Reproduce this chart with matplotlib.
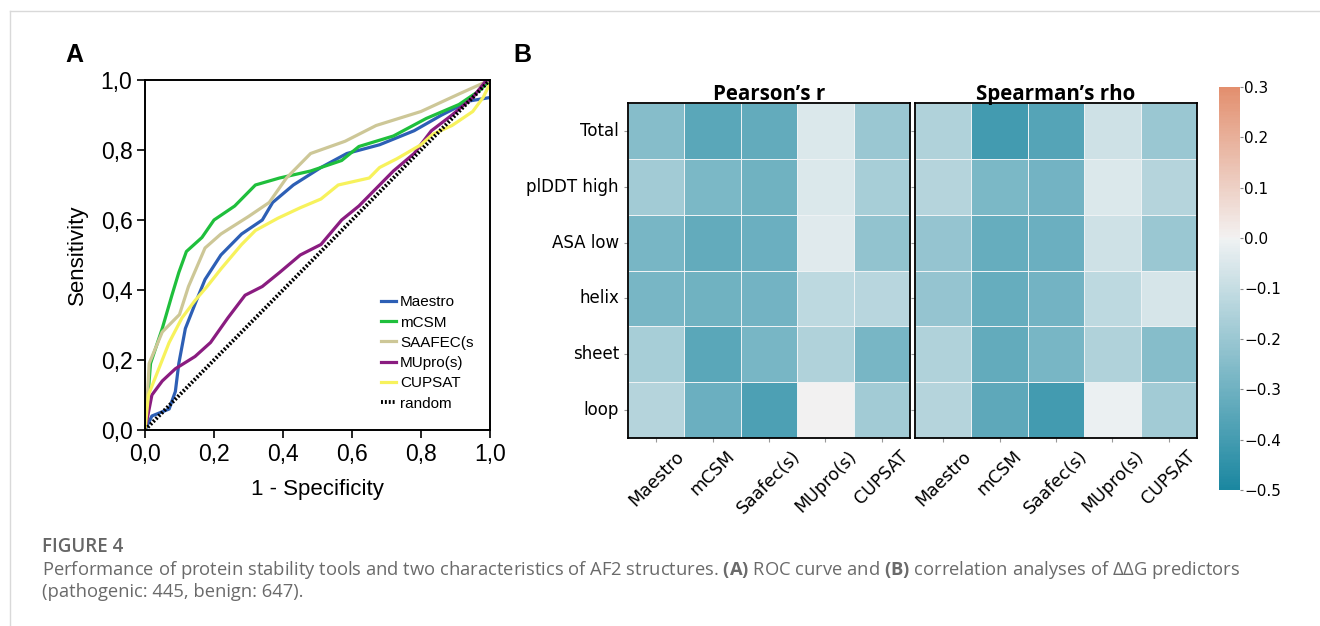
import matplotlib
matplotlib.use("Agg")
import matplotlib.pyplot as plt
from matplotlib.lines import Line2D
import seaborn as sns
import numpy as np

plt.rcParams["font.family"] = ["DejaVu Sans"]

# ROC curves (1 - specificity, sensitivity)
maestro_x = [0, 0.02, 0.07, 0.088, 0.098, 0.117, 0.145, 0.174, 0.22, 0.28, 0.34, 0.37, 0.43, 0.51, 0.585, 0.68, 0.78, 0.86, 0.94, 1.0]
maestro_y = [0, 0.04, 0.06, 0.11, 0.19, 0.29, 0.36, 0.43, 0.50, 0.56, 0.60, 0.65, 0.70, 0.75, 0.79, 0.815, 0.855, 0.90, 0.94, 0.95]
mcsm_x = [0, 0.004, 0.016, 0.05, 0.078, 0.098, 0.12, 0.165, 0.20, 0.26, 0.32, 0.39, 0.48, 0.57, 0.62, 0.72, 0.815, 0.91, 0.97, 1.0]
mcsm_y = [0, 0.04, 0.19, 0.29, 0.385, 0.45, 0.51, 0.55, 0.60, 0.64, 0.70, 0.72, 0.74, 0.77, 0.81, 0.84, 0.89, 0.93, 0.97, 1.0]
saafec_x = [0, 0.003, 0.012, 0.05, 0.10, 0.126, 0.174, 0.22, 0.30, 0.36, 0.41, 0.48, 0.58, 0.67, 0.80, 0.91, 1.0]
saafec_y = [0, 0.02, 0.19, 0.28, 0.33, 0.41, 0.52, 0.56, 0.61, 0.65, 0.72, 0.79, 0.825, 0.87, 0.91, 0.96, 1.0]
mupro_x = [0, 0.02, 0.05, 0.088, 0.145, 0.19, 0.24, 0.29, 0.34, 0.39, 0.45, 0.51, 0.57, 0.62, 0.67, 0.72, 0.78, 0.83, 0.89, 0.95, 0.99, 1.0]
mupro_y = [0, 0.10, 0.14, 0.175, 0.21, 0.25, 0.32, 0.385, 0.41, 0.45, 0.50, 0.53, 0.60, 0.64, 0.69, 0.74, 0.79, 0.855, 0.90, 0.95, 1.0, 1.0]
cupsat_x = [0, 0.002, 0.01, 0.04, 0.07, 0.107, 0.145, 0.18, 0.22, 0.28, 0.32, 0.385, 0.45, 0.51, 0.56, 0.65, 0.68, 0.73, 0.80, 0.834, 0.89, 0.95, 0.98, 1.0]
cupsat_y = [0, 0.02, 0.10, 0.175, 0.25, 0.32, 0.37, 0.41, 0.46, 0.53, 0.57, 0.605, 0.635, 0.66, 0.70, 0.72, 0.75, 0.775, 0.815, 0.845, 0.87, 0.91, 0.95, 0.99]
roc_names = ["Maestro", "mCSM", "SAAFEC(s", "MUpro(s)", "CUPSAT"]
roc_colors = ["#2d5fb5", "#1fbf3c", "#cdc797", "#8a1c80", "#f7f25c"]

# correlation heatmaps
rows = ["Total", "plDDT high", "ASA low", "helix", "sheet", "loop"]
tools = ["Maestro", "mCSM", "Saafec(s)", "MUpro(s)", "CUPSAT"]
pearson = np.array([
    [-0.25, -0.35, -0.33, -0.05, -0.20],
    [-0.18, -0.27, -0.30, -0.05, -0.17],
    [-0.28, -0.33, -0.31, -0.04, -0.22],
    [-0.28, -0.30, -0.29, -0.12, -0.13],
    [-0.17, -0.35, -0.28, -0.15, -0.28],
    [-0.14, -0.31, -0.38, 0.00, -0.18],
])
spearman = np.array([
    [-0.15, -0.40, -0.36, -0.08, -0.20],
    [-0.14, -0.27, -0.29, -0.05, -0.14],
    [-0.21, -0.32, -0.31, -0.08, -0.20],
    [-0.21, -0.32, -0.29, -0.12, -0.06],
    [-0.15, -0.33, -0.28, -0.15, -0.25],
    [-0.14, -0.34, -0.40, -0.01, -0.18],
])

W, H = 1320, 626
fig = plt.figure(figsize=(W / 100, H / 100), dpi=100)

def box(l, t, r, b):
    return [l / W, 1 - b / H, (r - l) / W, (b - t) / H]

# ---- panel A: ROC
ax = fig.add_axes(box(145, 80, 490, 430))
xs = [maestro_x, mcsm_x, saafec_x, mupro_x, cupsat_x]
ys = [maestro_y, mcsm_y, saafec_y, mupro_y, cupsat_y]
for x, y, name, c in zip(xs, ys, roc_names, roc_colors):
    ax.plot(x, y, color=c, lw=2.3, label=name)
ax.plot([0, 1], [0, 1], color="black", lw=2.8, ls=(0, (0.5, 0.5)), label="random")
ax.set_xlim(0, 1)
ax.set_ylim(0, 1)
ticks = [0, 0.2, 0.4, 0.6, 0.8, 1.0]
tick_lbls = ["0,0", "0,2", "0,4", "0,6", "0,8", "1,0"]
ax.set_xticks(ticks, tick_lbls)
ax.set_yticks(ticks, tick_lbls)
ax.tick_params(labelsize=16.5, length=6, width=1.2, pad=3)
for lab in ax.get_xticklabels() + ax.get_yticklabels():
    lab.set_family("Liberation Sans")
for s in ax.spines.values():
    s.set_linewidth(1.4)
ax.set_xlabel("1 - Specificity", fontsize=16, family="Liberation Sans", labelpad=10)
ax.set_ylabel("Sensitivity", fontsize=16, family="Liberation Sans", labelpad=9)
ax.legend(loc="upper left", bbox_to_anchor=(0.684, 0.385), frameon=False,
          prop={"family": "Liberation Sans", "size": 11}, handlelength=1.0,
          handletextpad=0.25, labelspacing=0.41, borderpad=0, borderaxespad=0)
fig.text(74 / W, 1 - 55 / H, "A", fontsize=18, weight="bold", family="Liberation Sans",
         ha="center", va="center")
fig.text(522 / W, 1 - 55 / H, "B", fontsize=18, weight="bold", family="Liberation Sans",
         ha="center", va="center")

# ---- panel B: heatmaps
cmap = sns.diverging_palette(220, 20, s=95, l=52, as_cmap=True)
axp = fig.add_axes(box(628, 103, 910, 438))
axs = fig.add_axes(box(915, 103, 1197, 438))
cax = fig.add_axes(box(1219, 87, 1240, 490))
sns.heatmap(pearson, ax=axp, cmap=cmap, vmin=-0.5, vmax=0.3, center=0,
            linewidths=0.6, linecolor="#eef2f4", cbar_ax=cax,
            xticklabels=tools, yticklabels=rows)
sns.heatmap(spearman, ax=axs, cmap=cmap, vmin=-0.5, vmax=0.3, center=0,
            linewidths=0.6, linecolor="#eef2f4", cbar=False,
            xticklabels=tools, yticklabels=False)
axs.set_yticks(np.arange(len(rows)) + 0.5)
axs.set_yticklabels([])
for a, title in [(axp, "Pearson\u2019s r"), (axs, "Spearman\u2019s rho")]:
    for s in a.spines.values():
        s.set_visible(True)
        s.set_linewidth(1.3)
        s.set_color("black")
    a.tick_params(axis="both", length=3, color="#999999", width=0.8)
    a.tick_params(axis="x", labelsize=12.5, rotation=45)
    a.tick_params(axis="y", labelsize=12, rotation=0)
    a.text(0.5, 1.008, title, transform=a.transAxes, ha="center", va="baseline",
           fontsize=14.8, weight="bold", family="Open Sans")
cb = axp.collections[0].colorbar
cb.set_ticks([-0.5, -0.4, -0.3, -0.2, -0.1, 0.0, 0.1, 0.2, 0.3])
cb.outline.set_linewidth(0)
cax.tick_params(labelsize=11, length=2, color="#888888", pad=1)

# ---- caption and page frame
fig.add_artist(Line2D([10 / W, 10 / W], [0, 1 - 11 / H], color="#d9d9d9", lw=1))
fig.add_artist(Line2D([10 / W, 1], [1 - 11 / H, 1 - 11 / H], color="#d9d9d9", lw=1))
plt.rcParams["mathtext.fontset"] = "custom"
plt.rcParams["mathtext.bf"] = "Open Sans:bold"
plt.rcParams["mathtext.rm"] = "Open Sans"
fig.text(42 / W, 1 - 547 / H, "FIGURE 4", fontsize=13.5, weight="semibold",
         family="Open Sans", color="#666666", va="center")
fig.text(42 / W, 1 - 570 / H,
         "Performance of protein stability tools and two characteristics of AF2 structures. "
         r"$\mathbf{(A)}$ ROC curve and $\mathbf{(B)}$ correlation analyses of "
         "\u0394\u0394G predictors",
         fontsize=13.2, family="Open Sans", color="#6a6a6a", va="center")
fig.text(42 / W, 1 - 592 / H, "(pathogenic: 445, benign: 647).",
         fontsize=13.2, family="Open Sans", color="#6a6a6a", va="center")

fig.savefig("out.png", dpi=100)
